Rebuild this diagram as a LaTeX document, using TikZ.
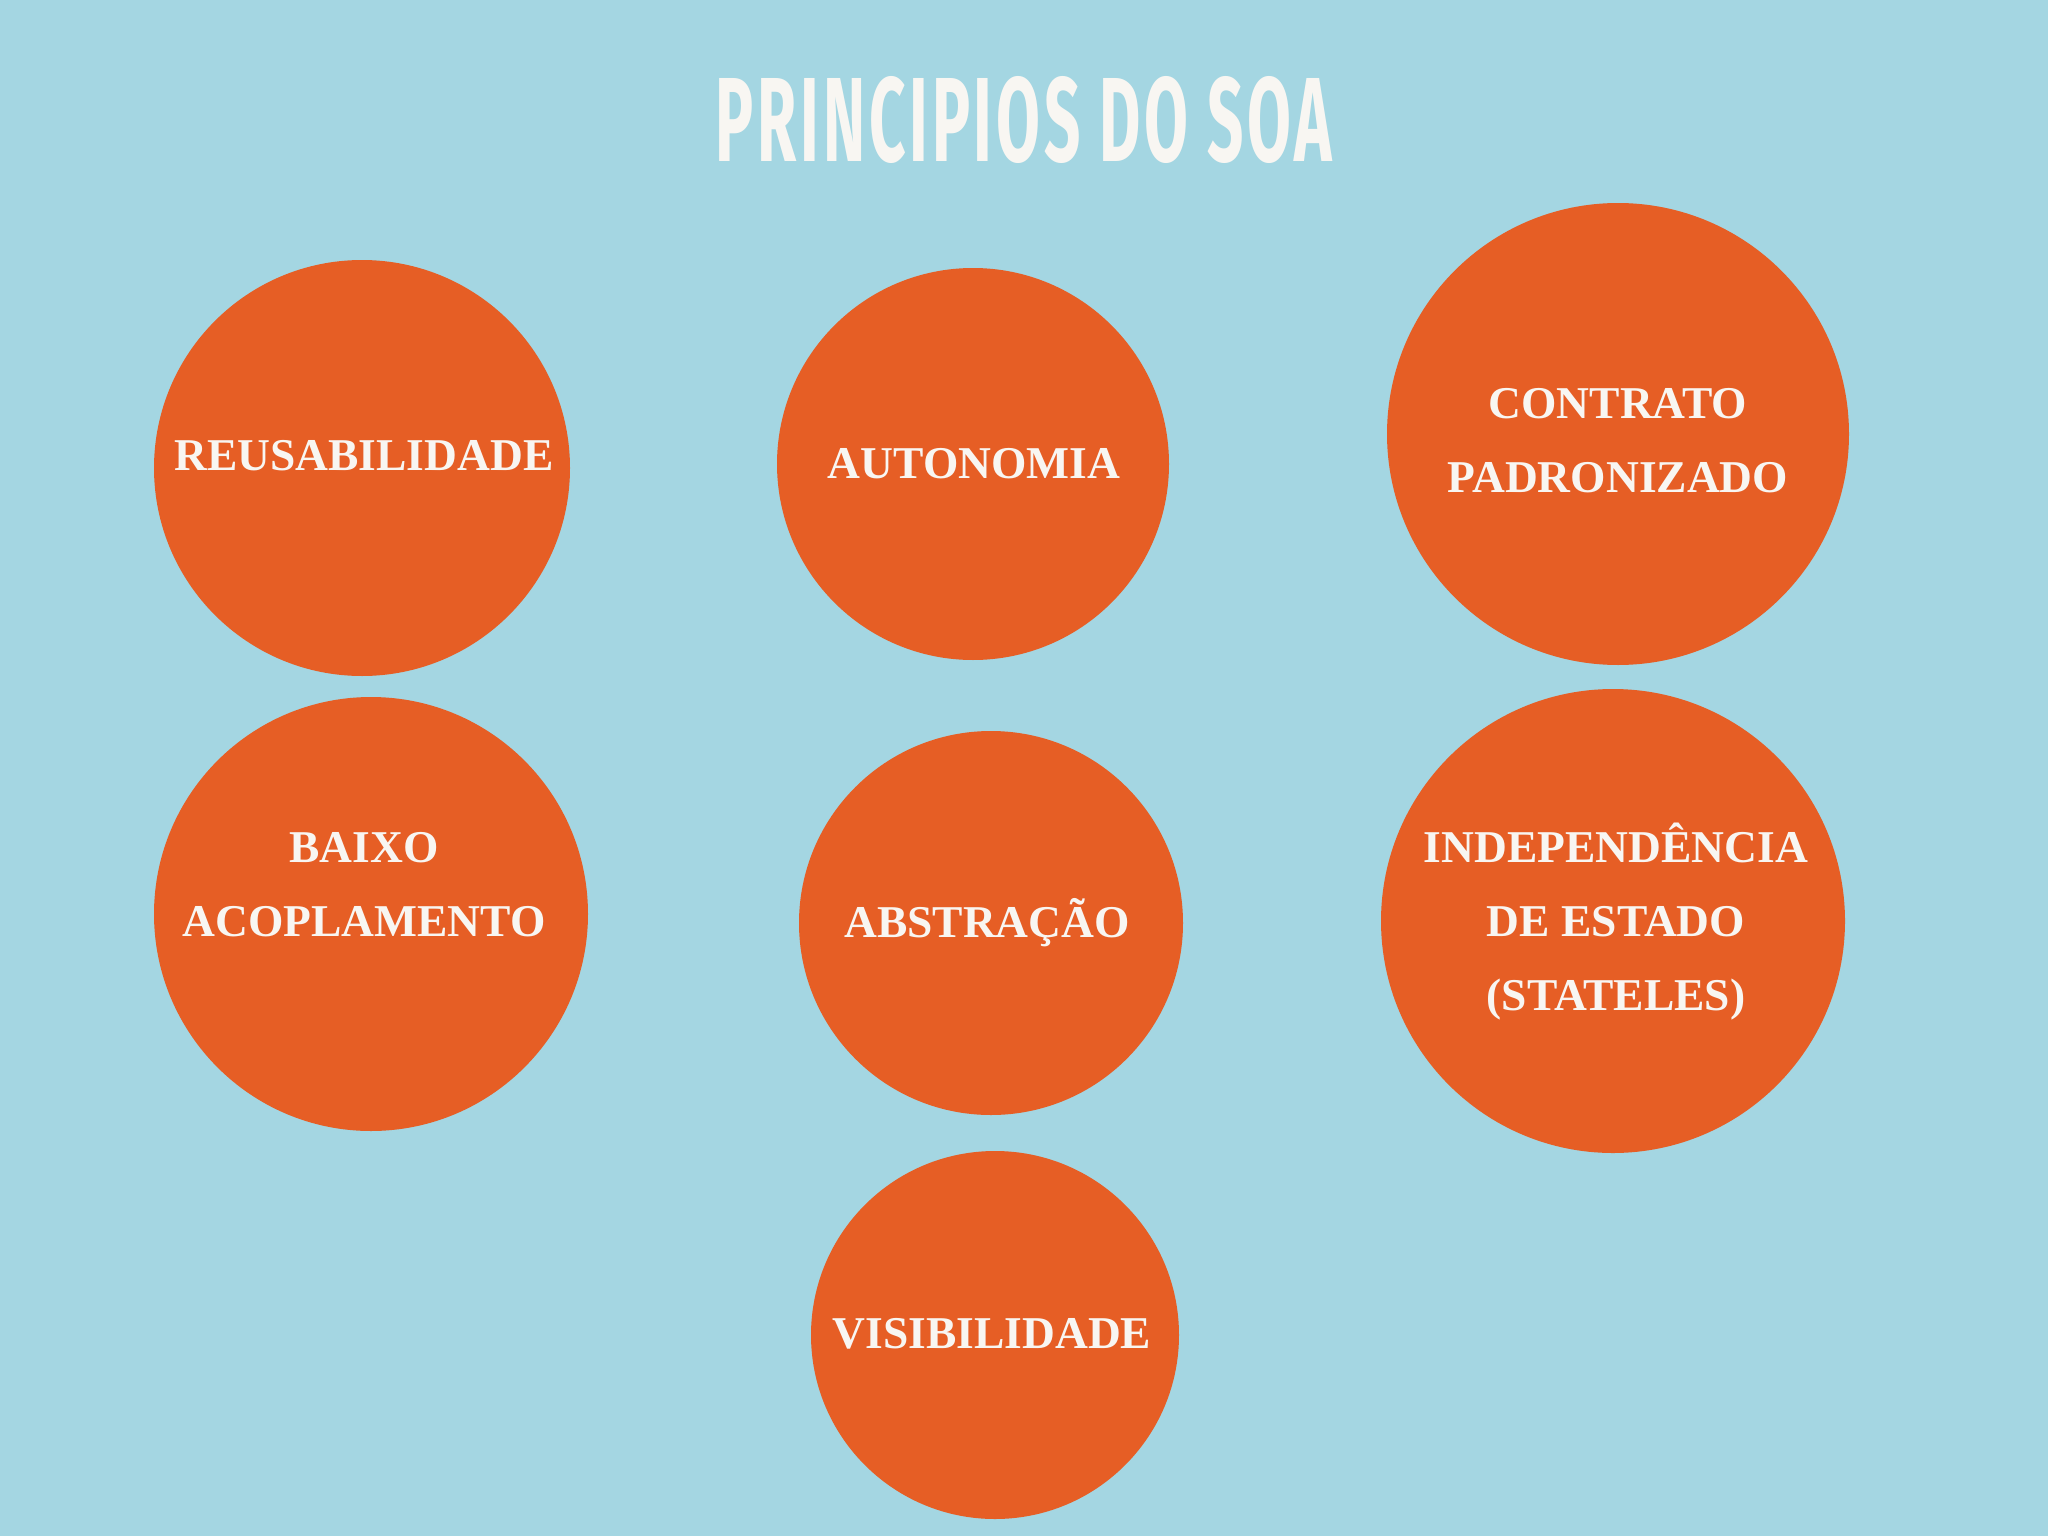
\documentclass[tikz,border=0pt]{standalone}
\usepackage{fontspec}
\setmainfont{Liberation Serif}
\newfontfamily\titlefont[LetterSpace=6]{Fira Sans}
\definecolor{bgblue}{HTML}{A4D6E2}
\definecolor{soaorange}{HTML}{E65E25}
\definecolor{txtwhite}{HTML}{F8F6F2}
\tikzset{
  bubble/.style={circle, fill=soaorange, draw=none, inner sep=0pt},
  bubbletext/.style={text=txtwhite, font=\fontsize{45.5}{74}\selectfont\bfseries, align=center, inner sep=0pt},
}
\begin{document}
\begin{tikzpicture}[x=1pt,y=-1pt]
\fill[bgblue] (0,0) rectangle (2048,1536);
\useasboundingbox (0,0) rectangle (2048,1536);
\node[text=txtwhite, inner sep=0pt] (title) at (1024,120) {\resizebox{616pt}{85pt}{\titlefont\bfseries PRINCIPIOS\ DO\ SOA}};

\node[bubble, minimum size=416pt] (reus) at (362,468) {};
\node[bubble, minimum size=392pt] (auto) at (973,464) {};
\node[bubble, minimum size=462pt] (cont) at (1618,434) {};
\node[bubble, minimum size=434pt] (baixo) at (371,914) {};
\node[bubble, minimum size=384pt] (abst) at (991,923) {};
\node[bubble, minimum size=464pt] (indep) at (1613,921) {};
\node[bubble, minimum size=368pt] (visi) at (995,1335) {};

\node[bubbletext] (treus) at (364,456) {REUSABILIDADE};
\node[bubbletext] (tauto) at (974,464) {AUTONOMIA};
\node[bubbletext] (tcont) at (1618,441) {CONTRATO\\PADRONIZADO};
\node[bubbletext] (tbaixo) at (364,885) {BAIXO\\ACOPLAMENTO};
\node[bubbletext] (tabst) at (987,923) {ABSTRAÇÃO};
\node[bubbletext] (tindep) at (1616,922) {INDEPENDÊNCIA\\DE ESTADO\\(STATELES)};
\node[bubbletext] (tvisi) at (992,1334) {VISIBILIDADE};
\end{tikzpicture}
\end{document}
